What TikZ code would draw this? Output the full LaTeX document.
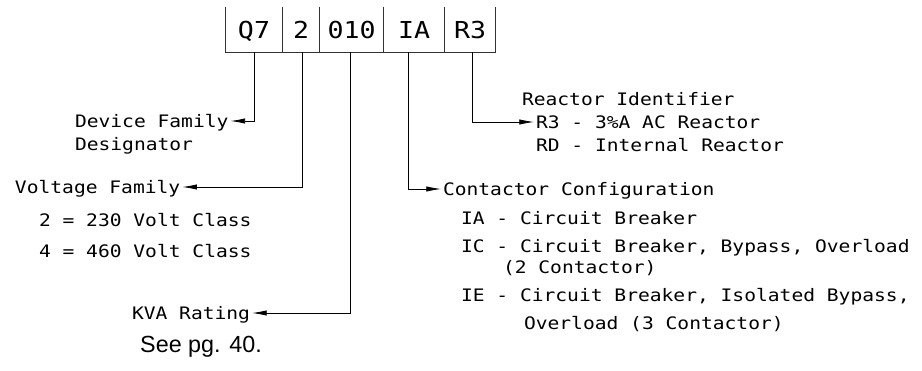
\documentclass[tikz,border=0pt]{standalone}
\usepackage{fontspec}
\newfontfamily\cadfont[FakeStretch=1.14]{DejaVu Sans Mono}
\newfontfamily\notefont{Liberation Sans}
\usetikzlibrary{arrows.meta, positioning}
\tikzset{x=.75pt,y=-.75pt}
\def\lblsize{\cadfont\fontsize{12.9}{15}\selectfont}
\def\cellsize{\cadfont\fontsize{17.5}{21}\selectfont}

\begin{document}
\begin{tikzpicture}[
  cell/.style={inner sep=0pt, minimum height=33.75pt, font=\cellsize,
    text height=12.8pt, text depth=0pt},
  lbl/.style={inner sep=0pt, outer sep=1.5pt, font=\lblsize,
    text height=9.4pt, text depth=0pt},
  frame/.style={line width=.6pt, black!80},
  lead/.style={line width=.6pt, -{Latex[length=11pt,width=4pt]}}]
\useasboundingbox (0,0) rectangle (922,371);
    % part number cells
    \node[cell, minimum width=42pt] (q7) at (254,29.5) {Q7};
    \node[cell, minimum width=27.75pt, right=0pt of q7] (volt) {2};
    \node[cell, minimum width=47.25pt, right=0pt of volt] (kva) {010};
    \node[cell, minimum width=45.75pt, right=0pt of kva] (cont) {IA};
    \node[cell, minimum width=37.5pt, right=0pt of cont] (reac) {R3};
    \draw[frame] (q7.north west) -- (q7.south west) -- (reac.south east)
      -- (reac.north east);
    \foreach \c in {q7, volt, kva, cont}
      \draw[frame] (\c.north east) -- (\c.south east);
    % device family
    \node[lbl, anchor=west] (devA) at (73,121) {Device Family};
    \node[lbl, anchor=west] (devB) at (73,144) {Designator};
    % voltage family
    \node[lbl, anchor=west] (voltA) at (13,187) {Voltage Family};
    \node[lbl, anchor=west] (voltB) at (37,220) {2 = 230 Volt Class};
    \node[lbl, anchor=west] (voltC) at (37,251) {4 = 460 Volt Class};
    % kva rating
    \node[lbl, anchor=west] (kvaA) at (130,313) {KVA Rating};
    \node[font=\notefont\fontsize{17.5}{21}\selectfont] (note) at (201,347)
      {See pg. 40.};
    % contactor configuration
    \node[lbl, anchor=west] (contA) at (441,189) {Contactor Configuration};
    \node[lbl, anchor=west] (contB) at (459,218) {IA - Circuit Breaker};
    \node[lbl, anchor=west] (contC) at (459,246)
      {IC - Circuit Breaker, Bypass, Overload};
    \node[lbl, anchor=west] (contD) at (501,267) {(2 Contactor)};
    \node[lbl, anchor=west] (contE) at (459,295)
      {IE - Circuit Breaker, Isolated Bypass,};
    \node[lbl, anchor=west] (contF) at (522,323) {Overload (3 Contactor)};
    % reactor identifier
    \node[lbl, anchor=west] (reacA) at (520,99) {Reactor Identifier};
    \node[lbl, anchor=west] (reacB) at (534,122) {R3 - 3\%A AC Reactor};
    \node[lbl, anchor=west] (reacC) at (534,145) {RD - Internal Reactor};
    % leaders
    \draw[lead] (q7.south) |- (devA.east);
    \draw[lead] ([xshift=1pt]volt.south) |- (voltA.east);
    \draw[lead] ([xshift=-1pt]kva.south) |- (kvaA.east);
    \draw[lead] ([xshift=-4pt]cont.south) |- (contA.west);
    \draw[lead] ([xshift=1.5pt]reac.south) |- (reacB.west);
\end{tikzpicture}
\end{document}
